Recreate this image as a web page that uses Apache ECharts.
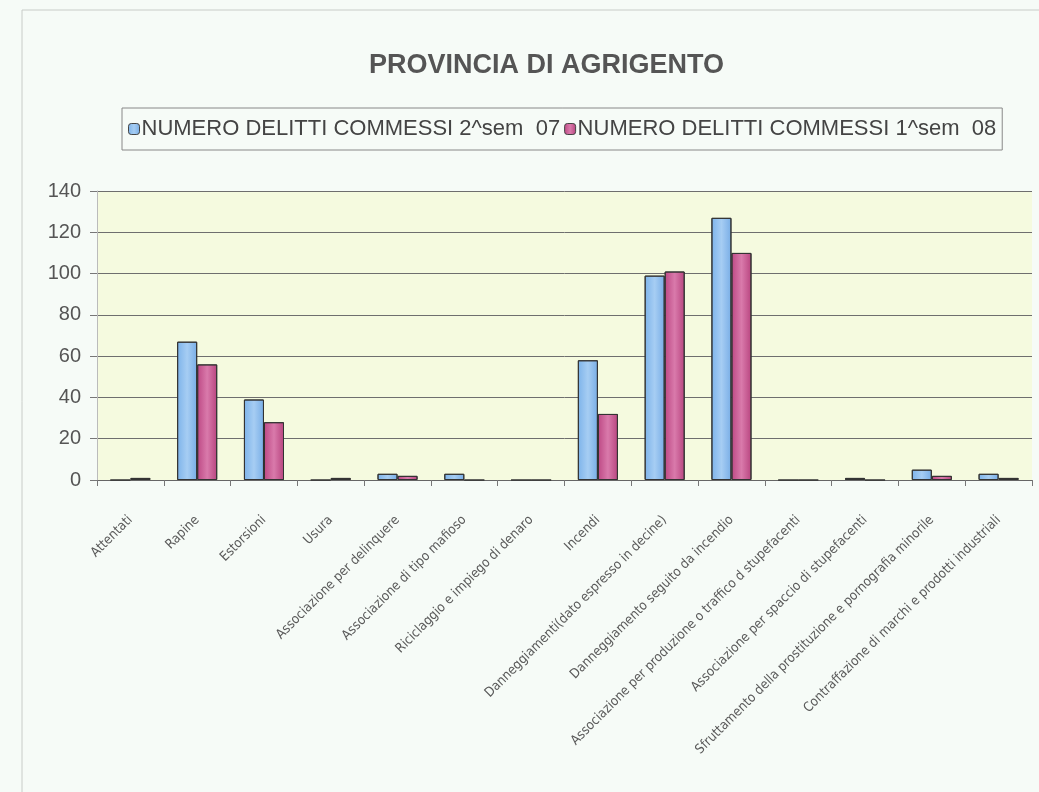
<!DOCTYPE html>
<html lang="it">
<head>
<meta charset="UTF-8">
<title>Provincia di Agrigento</title>
<script src="https://cdn.jsdelivr.net/npm/echarts@6/dist/echarts.min.js"></script>
<style>
  html, body { margin: 0; padding: 0; background: #f6fbf7; }
  #main { width: 1039px; height: 792px; }
</style>
</head>
<body>
<div id="main"></div>
<script type="text/javascript">
var categories = [
    'Attentati',
    'Rapine',
    'Estorsioni',
    'Usura',
    'Associazione per delinquere',
    'Associazione di tipo mafioso',
    'Riciclaggio e impiego di denaro',
    'Incendi',
    'Danneggiamenti(dato espresso in decine)',
    'Danneggiamento seguito da incendio',
    'Associazione per produzione o traffico d stupefacenti',
    'Associazione per spaccio di stupefacenti',
    'Sfruttamento della prostituzione e pornografia minorile',
    'Contraffazione di marchi e prodotti industriali'
];
var seriesNames = ['NUMERO DELITTI COMMESSI 2^sem  07', 'NUMERO DELITTI COMMESSI 1^sem  08'];
var sem2_07 = [0, 67, 39, 0, 3, 3, 0, 58, 99, 127, 0, 1, 5, 3];
var sem1_08 = [1, 56, 28, 1, 2, 0, 0, 32, 101, 110, 0, 0, 2, 1];

var chart = echarts.init(document.getElementById('main'));
var option = {
    backgroundColor: '#f6fbf7',
    graphic: [{
        type: 'rect',
        shape: { x: 22, y: 10, width: 1030, height: 800 },
        style: { fill: 'none', stroke: '#c8ccc8', lineWidth: 1 },
        silent: true
    }],
    title: {
        text: 'PROVINCIA DI AGRIGENTO',
        left: 364,
        top: 47,
        textStyle: { fontFamily: 'Liberation Sans', fontSize: 27, fontWeight: 'bold', color: '#555' }
    },
    legend: {
        data: seriesNames,
        top: 108,
        left: 122,
        width: 890,
        padding: [10, 6, 10, 6],
        borderColor: '#888',
        borderWidth: 1,
        itemWidth: 11,
        itemHeight: 11,
        itemGap: 4,
        itemStyle: { borderColor: '#444', borderWidth: 1 },
        textStyle: { fontFamily: 'Liberation Sans', fontSize: 22, color: '#444', padding: [0, 0, 0, -3] }
    },
    grid: {
        left: 97, right: 7, top: 191, bottom: 312,
        show: true,
        backgroundColor: '#f5fadf',
        borderWidth: 0
    },
    xAxis: {
        type: 'category',
        data: categories,
        axisLine: { lineStyle: { color: '#666', width: 1 } },
        axisTick: { show: true, alignWithLabel: false, length: 6, lineStyle: { color: '#777' } },
        axisLabel: {
            interval: 0,
            rotate: 45,
            margin: 38,
            fontFamily: '"DejaVu Sans Condensed", "Liberation Sans", sans-serif',
            fontSize: 13.3,
            color: '#5a5a5a'
        }
    },
    yAxis: {
        type: 'value',
        min: 0,
        max: 140,
        interval: 20,
        axisLine: { show: true, lineStyle: { color: '#bbb' } },
        axisTick: { show: true, length: 7, lineStyle: { color: '#777' } },
        splitLine: { lineStyle: { color: '#6e6e6e', width: 1 } },
        axisLabel: { fontFamily: 'Liberation Sans', fontSize: 20, color: '#555', margin: 16 }
    },
    series: [{
        name: seriesNames[0],
        type: 'bar',
        data: sem2_07,
        barGap: '0%',
        barCategoryGap: '40%',
        itemStyle: {
            color: new echarts.graphic.LinearGradient(0, 0, 1, 0, [
                { offset: 0, color: '#7db3ea' },
                { offset: 0.5, color: '#a6cdf3' },
                { offset: 1, color: '#78ade6' }
            ]),
            borderColor: '#333',
            borderWidth: 1
        }
    }, {
        name: seriesNames[1],
        type: 'bar',
        data: sem1_08,
        itemStyle: {
            color: new echarts.graphic.LinearGradient(0, 0, 1, 0, [
                { offset: 0, color: '#bd4884' },
                { offset: 0.5, color: '#d97aab' },
                { offset: 1, color: '#b8447f' }
            ]),
            borderColor: '#333',
            borderWidth: 1
        }
    }]
};
chart.setOption(option);
</script>
</body>
</html>
